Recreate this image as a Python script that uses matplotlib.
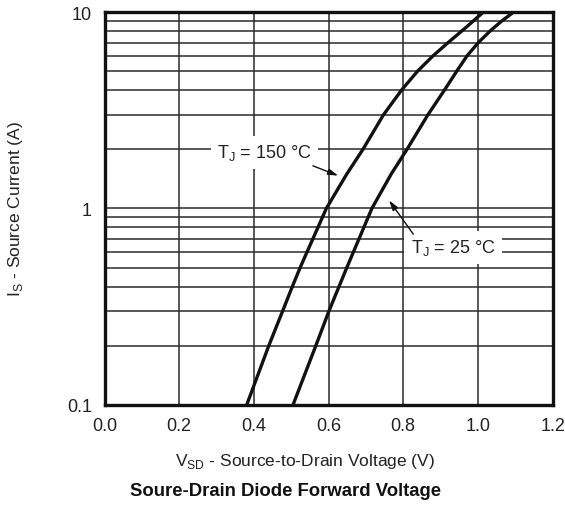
import numpy as np
import matplotlib
matplotlib.use("Agg")
import matplotlib.pyplot as plt
from matplotlib.ticker import FixedLocator, LogLocator, NullFormatter

plt.rcParams['font.family'] = ['Liberation Sans', 'DejaVu Sans']
plt.rcParams['mathtext.fontset'] = 'custom'
plt.rcParams['mathtext.rm'] = 'Liberation Sans'

# forward characteristic, source current (A) vs source-drain voltage (V)
i_s = [0.1, 0.2, 0.3, 0.4, 0.5, 1.0, 1.5, 2.0, 3.0, 4.0, 5.0, 6.0, 7.0, 8.0, 9.0, 10.0]
v_150 = [0.381, 0.440, 0.477, 0.503, 0.524, 0.594, 0.649, 0.692, 0.747, 0.795, 0.838, 0.880, 0.920, 0.956, 0.987, 1.014]
v_25 = [0.505, 0.566, 0.601, 0.628, 0.649, 0.716, 0.768, 0.810, 0.866, 0.910, 0.943, 0.971, 1.001, 1.032, 1.063, 1.095]

x_ticks = [0.0, 0.2, 0.4, 0.6, 0.8, 1.0, 1.2]
y_ticks = [0.1, 1, 10]
y_labels = ['0.1', '1', '10']

fig = plt.figure(figsize=(5.65, 5.1), dpi=100)
ax = fig.add_axes([0.185, 0.2045, 0.793, 0.7695])

ax.plot(v_150, i_s, color='#111111', lw=2.4, zorder=4, solid_capstyle='butt')
ax.plot(v_25, i_s, color='#111111', lw=2.4, zorder=4, solid_capstyle='butt')

ax.set_yscale('log')
ax.set_xlim(0, 1.2)
ax.set_ylim(0.1, 10)
ax.xaxis.set_major_locator(FixedLocator(x_ticks))
ax.set_xticklabels(['%.1f' % v for v in x_ticks])
ax.yaxis.set_major_locator(FixedLocator(y_ticks))
ax.set_yticklabels(y_labels)
ax.yaxis.set_minor_locator(LogLocator(base=10, subs=np.arange(2, 10)))
ax.yaxis.set_minor_formatter(NullFormatter())
ax.tick_params(axis='both', which='both', length=0, labelsize=13, colors='#222222')
ax.tick_params(axis='x', pad=9)
ax.tick_params(axis='y', pad=9)

ax.grid(True, which='both', color='#2a2a2a', lw=1.1)
ax.set_axisbelow(True)
for s in ax.spines.values():
    s.set_linewidth(2.4)
    s.set_color('#111111')
    s.set_zorder(6)

# curve labels with white boxes cutting the grid
box = dict(boxstyle='square,pad=0.35', fc='white', ec='none')
ax.text(0.428, 1.93, r'T$_\mathregular{J}$ = 150 °C', fontsize=13, ha='center', va='center',
        bbox=box, zorder=3, color='#222222')
ax.text(0.934, 0.634, r'T$_\mathregular{J}$ = 25 °C', fontsize=13, ha='center', va='center',
        bbox=box, zorder=3, color='#222222')

arrow = dict(arrowstyle='-|>,head_length=0.6,head_width=0.18', color='#111111', lw=1.0,
             shrinkA=0, shrinkB=0)
ax.annotate('', xy=(0.626, 1.47), xytext=(0.558, 1.65), arrowprops=arrow, zorder=5)
ax.annotate('', xy=(0.762, 1.10), xytext=(0.827, 0.74), arrowprops=arrow, zorder=5)

ax.yaxis.set_label_coords(-0.177, 0.5)
ax.set_ylabel(r'I$_\mathregular{S}$ - Source Current (A)', fontsize=12.5, color='#222222')
fig.text(305 / 565, 1 - 462 / 510, r'V$_\mathregular{SD}$ - Source-to-Drain Voltage (V)',
         fontsize=12.5, ha='center', va='center', color='#222222')
fig.text(286 / 565, 1 - 492 / 510, 'Soure-Drain Diode Forward Voltage',
         fontsize=13.3, fontweight='bold', ha='center', va='center', color='#111111')

fig.savefig('out.png', dpi=100)
